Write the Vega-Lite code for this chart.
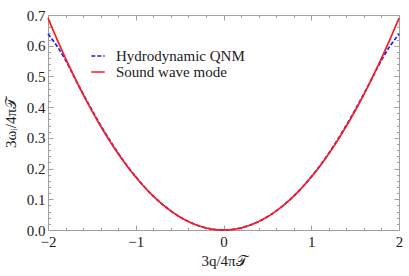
{
  "$schema": "https://vega.github.io/schema/vega-lite/v6.json",
  "width": 351,
  "height": 215,
  "padding": {"left": 48, "top": 15, "right": 10, "bottom": 46},
  "autosize": {"type": "none"},
  "config": {
    "view": {"stroke": null},
    "font": "Liberation Serif",
    "axis": {"grid": false, "domainColor": "#a0a0a0", "tickColor": "#a0a0a0", "labelColor": "#222222", "titleColor": "#222222", "labelFont": "Liberation Serif", "titleFont": "Liberation Serif", "labelFontSize": 15, "titleFontSize": 15, "titleFontWeight": "normal", "labelFlush": false},
    "legend": {"labelFont": "Liberation Serif", "labelFontSize": 15, "labelColor": "#222222"}
  },
  "data": {"values": [
    {"q": -2.0, "w": 0.638, "s": "Hydrodynamic QNM"},
    {"q": -1.9, "w": 0.600, "s": "Hydrodynamic QNM"},
    {"q": -1.8, "w": 0.553, "s": "Hydrodynamic QNM"},
    {"q": -1.7, "w": 0.498, "s": "Hydrodynamic QNM"},
    {"q": -1.6, "w": 0.443, "s": "Hydrodynamic QNM"},
    {"q": -1.5, "w": 0.391, "s": "Hydrodynamic QNM"},
    {"q": -1.4, "w": 0.341, "s": "Hydrodynamic QNM"},
    {"q": -1.3, "w": 0.294, "s": "Hydrodynamic QNM"},
    {"q": -1.2, "w": 0.250, "s": "Hydrodynamic QNM"},
    {"q": -1.1, "w": 0.2095, "s": "Hydrodynamic QNM"},
    {"q": -1.0, "w": 0.173, "s": "Hydrodynamic QNM"},
    {"q": -0.9, "w": 0.1399, "s": "Hydrodynamic QNM"},
    {"q": -0.8, "w": 0.1105, "s": "Hydrodynamic QNM"},
    {"q": -0.7, "w": 0.0845, "s": "Hydrodynamic QNM"},
    {"q": -0.6, "w": 0.0621, "s": "Hydrodynamic QNM"},
    {"q": -0.5, "w": 0.0431, "s": "Hydrodynamic QNM"},
    {"q": -0.4, "w": 0.0276, "s": "Hydrodynamic QNM"},
    {"q": -0.3, "w": 0.0155, "s": "Hydrodynamic QNM"},
    {"q": -0.2, "w": 0.0069, "s": "Hydrodynamic QNM"},
    {"q": -0.1, "w": 0.0017, "s": "Hydrodynamic QNM"},
    {"q": 0.0, "w": 0.0, "s": "Hydrodynamic QNM"},
    {"q": 0.1, "w": 0.0017, "s": "Hydrodynamic QNM"},
    {"q": 0.2, "w": 0.0069, "s": "Hydrodynamic QNM"},
    {"q": 0.3, "w": 0.0155, "s": "Hydrodynamic QNM"},
    {"q": 0.4, "w": 0.0276, "s": "Hydrodynamic QNM"},
    {"q": 0.5, "w": 0.0431, "s": "Hydrodynamic QNM"},
    {"q": 0.6, "w": 0.0621, "s": "Hydrodynamic QNM"},
    {"q": 0.7, "w": 0.0845, "s": "Hydrodynamic QNM"},
    {"q": 0.8, "w": 0.1105, "s": "Hydrodynamic QNM"},
    {"q": 0.9, "w": 0.1399, "s": "Hydrodynamic QNM"},
    {"q": 1.0, "w": 0.173, "s": "Hydrodynamic QNM"},
    {"q": 1.1, "w": 0.2095, "s": "Hydrodynamic QNM"},
    {"q": 1.2, "w": 0.250, "s": "Hydrodynamic QNM"},
    {"q": 1.3, "w": 0.294, "s": "Hydrodynamic QNM"},
    {"q": 1.4, "w": 0.341, "s": "Hydrodynamic QNM"},
    {"q": 1.5, "w": 0.391, "s": "Hydrodynamic QNM"},
    {"q": 1.6, "w": 0.443, "s": "Hydrodynamic QNM"},
    {"q": 1.7, "w": 0.498, "s": "Hydrodynamic QNM"},
    {"q": 1.8, "w": 0.553, "s": "Hydrodynamic QNM"},
    {"q": 1.9, "w": 0.600, "s": "Hydrodynamic QNM"},
    {"q": 2.0, "w": 0.638, "s": "Hydrodynamic QNM"},
    {"q": -2.0, "w": 0.690, "s": "Sound wave mode"},
    {"q": -1.9, "w": 0.6227, "s": "Sound wave mode"},
    {"q": -1.8, "w": 0.5589, "s": "Sound wave mode"},
    {"q": -1.7, "w": 0.4985, "s": "Sound wave mode"},
    {"q": -1.6, "w": 0.4416, "s": "Sound wave mode"},
    {"q": -1.5, "w": 0.3881, "s": "Sound wave mode"},
    {"q": -1.4, "w": 0.3381, "s": "Sound wave mode"},
    {"q": -1.3, "w": 0.2915, "s": "Sound wave mode"},
    {"q": -1.2, "w": 0.2484, "s": "Sound wave mode"},
    {"q": -1.1, "w": 0.2087, "s": "Sound wave mode"},
    {"q": -1.0, "w": 0.1725, "s": "Sound wave mode"},
    {"q": -0.9, "w": 0.1397, "s": "Sound wave mode"},
    {"q": -0.8, "w": 0.1104, "s": "Sound wave mode"},
    {"q": -0.7, "w": 0.0845, "s": "Sound wave mode"},
    {"q": -0.6, "w": 0.0621, "s": "Sound wave mode"},
    {"q": -0.5, "w": 0.0431, "s": "Sound wave mode"},
    {"q": -0.4, "w": 0.0276, "s": "Sound wave mode"},
    {"q": -0.3, "w": 0.0155, "s": "Sound wave mode"},
    {"q": -0.2, "w": 0.0069, "s": "Sound wave mode"},
    {"q": -0.1, "w": 0.0017, "s": "Sound wave mode"},
    {"q": 0.0, "w": 0.0, "s": "Sound wave mode"},
    {"q": 0.1, "w": 0.0017, "s": "Sound wave mode"},
    {"q": 0.2, "w": 0.0069, "s": "Sound wave mode"},
    {"q": 0.3, "w": 0.0155, "s": "Sound wave mode"},
    {"q": 0.4, "w": 0.0276, "s": "Sound wave mode"},
    {"q": 0.5, "w": 0.0431, "s": "Sound wave mode"},
    {"q": 0.6, "w": 0.0621, "s": "Sound wave mode"},
    {"q": 0.7, "w": 0.0845, "s": "Sound wave mode"},
    {"q": 0.8, "w": 0.1104, "s": "Sound wave mode"},
    {"q": 0.9, "w": 0.1397, "s": "Sound wave mode"},
    {"q": 1.0, "w": 0.1725, "s": "Sound wave mode"},
    {"q": 1.1, "w": 0.2087, "s": "Sound wave mode"},
    {"q": 1.2, "w": 0.2484, "s": "Sound wave mode"},
    {"q": 1.3, "w": 0.2915, "s": "Sound wave mode"},
    {"q": 1.4, "w": 0.3381, "s": "Sound wave mode"},
    {"q": 1.5, "w": 0.3881, "s": "Sound wave mode"},
    {"q": 1.6, "w": 0.4416, "s": "Sound wave mode"},
    {"q": 1.7, "w": 0.4985, "s": "Sound wave mode"},
    {"q": 1.8, "w": 0.5589, "s": "Sound wave mode"},
    {"q": 1.9, "w": 0.6227, "s": "Sound wave mode"},
    {"q": 2.0, "w": 0.690, "s": "Sound wave mode"}
  ]},
  "resolve": {"axis": {"x": "independent", "y": "independent"}},
  "layer": [
    {
      "mark": {"type": "line", "opacity": 0, "interpolate": "monotone"},
      "encoding": {
        "x": {"field": "q", "type": "quantitative", "scale": {"domain": [-2, 2], "nice": false, "zero": false},
              "axis": {"orient": "bottom", "values": [-2,-1.8,-1.6,-1.4,-1.2,-1,-0.8,-0.6,-0.4,-0.2,0,0.2,0.4,0.6,0.8,1,1.2,1.4,1.6,1.8,2], "labels": false, "title": null, "tickSize": -2.5, "domain": false}},
        "y": {"field": "w", "type": "quantitative", "scale": {"domain": [0, 0.7], "nice": false},
              "axis": {"orient": "left", "values": [0,0.02,0.04,0.06,0.08,0.1,0.12,0.14,0.16,0.18,0.2,0.22,0.24,0.26,0.28,0.3,0.32,0.34,0.36,0.38,0.4,0.42,0.44,0.46,0.48,0.5,0.52,0.54,0.56,0.58,0.6,0.62,0.64,0.66,0.68,0.7], "labels": false, "title": null, "tickSize": -2.5, "domain": false}},
        "detail": {"field": "s"}
      }
    },
    {
      "mark": {"type": "line", "opacity": 0, "interpolate": "monotone"},
      "encoding": {
        "x": {"field": "q", "type": "quantitative",
              "axis": {"orient": "top", "values": [-2,-1.8,-1.6,-1.4,-1.2,-1,-0.8,-0.6,-0.4,-0.2,0,0.2,0.4,0.6,0.8,1,1.2,1.4,1.6,1.8,2], "labels": false, "title": null, "tickSize": -2.5, "domain": false}},
        "y": {"field": "w", "type": "quantitative",
              "axis": {"orient": "right", "values": [0,0.02,0.04,0.06,0.08,0.1,0.12,0.14,0.16,0.18,0.2,0.22,0.24,0.26,0.28,0.3,0.32,0.34,0.36,0.38,0.4,0.42,0.44,0.46,0.48,0.5,0.52,0.54,0.56,0.58,0.6,0.62,0.64,0.66,0.68,0.7], "labels": false, "title": null, "tickSize": -2.5, "domain": false}},
        "detail": {"field": "s"}
      }
    },
    {
      "mark": {"type": "line", "opacity": 0, "interpolate": "monotone"},
      "encoding": {
        "x": {"field": "q", "type": "quantitative",
              "axis": {"orient": "top", "values": [-2,-1,0,1,2], "labels": false, "title": null, "tickSize": -5}},
        "y": {"field": "w", "type": "quantitative",
              "axis": {"orient": "right", "values": [0,0.1,0.2,0.3,0.4,0.5,0.6,0.7], "labels": false, "title": null, "tickSize": -5}},
        "detail": {"field": "s"}
      }
    },
    {
      "mark": {"type": "line", "strokeWidth": 1.7, "interpolate": "monotone"},
      "encoding": {
        "x": {"field": "q", "type": "quantitative",
              "axis": {"orient": "bottom", "values": [-2,-1,0,1,2], "format": "d", "tickSize": -5, "labelPadding": 9, "title": "3q/4π𝒯", "titlePadding": 4}},
        "y": {"field": "w", "type": "quantitative",
              "axis": {"orient": "left", "values": [0,0.1,0.2,0.3,0.4,0.5,0.6,0.7], "format": ".1f", "tickSize": -5, "labelPadding": 8, "title": "3ωᵢ/4π𝒯", "titlePadding": 8}},
        "color": {"field": "s", "type": "nominal",
                  "scale": {"domain": ["Hydrodynamic QNM", "Sound wave mode"], "range": ["#1a1aff", "#ff1a1a"]},
                  "legend": {"title": null, "orient": "none", "legendX": 42, "legendY": 33, "symbolType": "stroke", "symbolSize": 180, "symbolStrokeWidth": 1.6, "rowPadding": 0, "labelOffset": 10, "labelFont": "Liberation Serif", "labelFontSize": 15}},
        "strokeDash": {"field": "s", "type": "nominal",
                  "scale": {"domain": ["Hydrodynamic QNM", "Sound wave mode"], "range": [[4, 2], [1, 0]]},
                  "legend": {"title": null, "orient": "none", "legendX": 42, "legendY": 33, "symbolType": "stroke", "symbolSize": 180, "symbolStrokeWidth": 1.6, "rowPadding": 0, "labelOffset": 10, "labelFont": "Liberation Serif", "labelFontSize": 15}},
        "order": {"field": "q", "type": "quantitative"}
      }
    }
  ]
}
